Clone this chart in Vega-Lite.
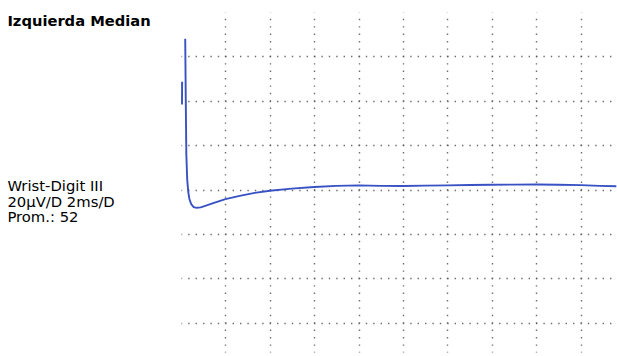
{
  "$schema": "https://vega.github.io/schema/vega-lite/v6.json",
  "description": "Median nerve sensory response, wrist to digit III (left side). 2 ms and 20 uV per division.",
  "width": 436,
  "height": 340,
  "autosize": {"type": "none"},
  "padding": {"left": 181, "top": 12, "right": 0, "bottom": 4},
  "background": "white",
  "config": {
    "view": {"stroke": null},
    "font": "DejaVu Sans"
  },
  "datasets": {
    "trace": [
      {"seg": "stim", "i": 0, "t": 0.045, "v": 38.3},
      {"seg": "stim", "i": 1, "t": 0.05, "v": 48.6},
      {"seg": "main", "i": 0, "t": 0.19, "v": 68.0},
      {"seg": "main", "i": 1, "t": 0.215, "v": 40.5},
      {"seg": "main", "i": 2, "t": 0.24, "v": 15.8},
      {"seg": "main", "i": 3, "t": 0.28, "v": 4.5},
      {"seg": "main", "i": 4, "t": 0.325, "v": -0.9},
      {"seg": "main", "i": 5, "t": 0.375, "v": -4.1},
      {"seg": "main", "i": 6, "t": 0.459, "v": -6.5},
      {"seg": "main", "i": 7, "t": 0.572, "v": -7.9},
      {"seg": "main", "i": 8, "t": 0.707, "v": -8.2},
      {"seg": "main", "i": 9, "t": 0.887, "v": -8.0},
      {"seg": "main", "i": 10, "t": 1.158, "v": -7.1},
      {"seg": "main", "i": 11, "t": 1.518, "v": -5.9},
      {"seg": "main", "i": 12, "t": 2.0, "v": -4.3},
      {"seg": "main", "i": 13, "t": 2.644, "v": -2.8},
      {"seg": "main", "i": 14, "t": 3.32, "v": -1.5},
      {"seg": "main", "i": 15, "t": 4.0, "v": -0.5},
      {"seg": "main", "i": 16, "t": 4.99, "v": 0.45},
      {"seg": "main", "i": 17, "t": 6.0, "v": 1.2},
      {"seg": "main", "i": 18, "t": 7.01, "v": 1.7},
      {"seg": "main", "i": 19, "t": 8.02, "v": 1.9},
      {"seg": "main", "i": 20, "t": 9.0, "v": 1.7},
      {"seg": "main", "i": 21, "t": 10.0, "v": 1.6},
      {"seg": "main", "i": 22, "t": 10.98, "v": 1.8},
      {"seg": "main", "i": 23, "t": 12.01, "v": 1.9},
      {"seg": "main", "i": 24, "t": 13.0, "v": 2.1},
      {"seg": "main", "i": 25, "t": 14.0, "v": 2.2},
      {"seg": "main", "i": 26, "t": 14.99, "v": 2.25},
      {"seg": "main", "i": 27, "t": 16.0, "v": 2.3},
      {"seg": "main", "i": 28, "t": 17.01, "v": 2.2},
      {"seg": "main", "i": 29, "t": 18.02, "v": 2.0},
      {"seg": "main", "i": 30, "t": 18.86, "v": 1.7},
      {"seg": "main", "i": 31, "t": 19.61, "v": 1.5}
    ],
    "heading": [
      {"t": -7.82, "v": 73.8, "text": "Izquierda Median"}
    ],
    "info": [
      {"t": -7.82, "v": -0.5, "text": "Wrist-Digit III"},
      {"t": -7.82, "v": -7.7, "text": "20µV/D 2ms/D"},
      {"t": -7.82, "v": -14.6, "text": "Prom.: 52"}
    ]
  },
  "layer": [
    {
      "data": {"name": "trace"},
      "mark": {"type": "line", "color": "#3852c4", "strokeWidth": 1.9, "clip": true},
      "encoding": {
        "x": {
          "field": "t",
          "type": "quantitative",
          "scale": {"domain": [0, 19.64], "nice": false, "zero": false},
          "axis": {
            "orient": "top",
            "values": [2, 4, 6, 8, 10, 12, 14, 16, 18],
            "grid": true,
            "gridColor": "#555",
            "gridOpacity": 0.85,
            "gridWidth": 1.4,
            "gridDash": [1.4, 6.0],
            "gridDashOffset": 0.7,
            "labels": false,
            "ticks": false,
            "domain": false,
            "title": null
          }
        },
        "y": {
          "field": "v",
          "type": "quantitative",
          "scale": {"domain": [-73.15, 80], "nice": false, "zero": false},
          "axis": {
            "orient": "left",
            "values": [-60, -40, -20, 0, 20, 40, 60],
            "grid": true,
            "gridColor": "#555",
            "gridOpacity": 0.85,
            "gridWidth": 1.4,
            "gridDash": [1.4, 6.0],
            "gridDashOffset": 0.7,
            "labels": false,
            "ticks": false,
            "domain": false,
            "title": null
          }
        },
        "detail": {"field": "seg"},
        "order": {"field": "i", "type": "quantitative"}
      }
    },
    {
      "data": {"name": "heading"},
      "mark": {"type": "text", "align": "left", "baseline": "alphabetic", "fontSize": 14.7, "fontWeight": "bold", "color": "#000", "clip": false},
      "encoding": {
        "x": {"field": "t", "type": "quantitative"},
        "y": {"field": "v", "type": "quantitative"},
        "text": {"field": "text"}
      }
    },
    {
      "data": {"name": "info"},
      "mark": {"type": "text", "align": "left", "baseline": "alphabetic", "fontSize": 14.8, "color": "#000", "clip": false},
      "encoding": {
        "x": {"field": "t", "type": "quantitative"},
        "y": {"field": "v", "type": "quantitative"},
        "text": {"field": "text"}
      }
    }
  ]
}
